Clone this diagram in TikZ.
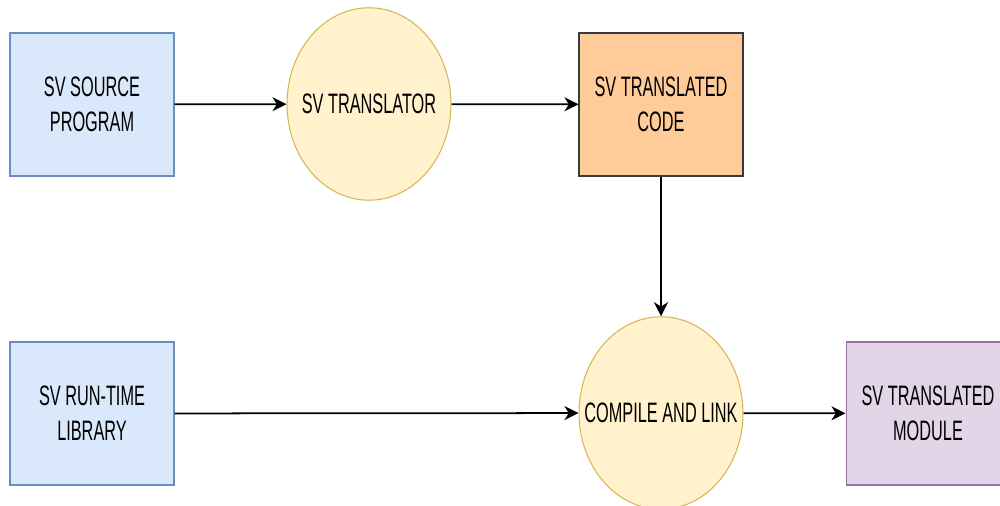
\documentclass[tikz,border=0pt]{standalone}
\usepackage{fontspec}
\setmainfont[FakeStretch=0.58]{Liberation Sans}
\usetikzlibrary{arrows.meta, shapes.geometric}
\definecolor{bfill}{HTML}{DAE8FC}
\definecolor{bline}{HTML}{6C8EBF}
\definecolor{yfill}{HTML}{FFF2CC}
\definecolor{yline}{HTML}{D6B656}
\definecolor{ofill}{HTML}{FFCC99}
\definecolor{oline}{HTML}{36393D}
\definecolor{vfill}{HTML}{E1D5E7}
\definecolor{vline}{HTML}{9673A6}
\tikzset{
  % Blue input box
  BB/.style={rectangle,draw=bline,fill=bfill,minimum width=3.28cm,
             minimum height=2.86cm,align=center,inner sep=0pt,
             font=\fontsize{16}{20}\selectfont,line width=0.6pt},
  % Orange code box
  OB/.style={BB,draw=oline,fill=ofill},
  % Violet output box
  VB/.style={BB,draw=vline,fill=vfill},
  % Yellow process ellipse, text set as a centre label
  YE/.style={ellipse,draw=yline,fill=yfill,minimum width=3.28cm,
             minimum height=3.85cm,inner sep=0pt,line width=0.6pt,
             label={[font=\fontsize{16}{20}\selectfont]center:#1}},
  % Arrows
  Arr/.style={-{Stealth[length=8pt,width=8pt,inset=2.5pt]},line width=1pt,black},
}
\begin{document}
\begin{tikzpicture}[x=0.02cm,y=-0.02cm]
  \useasboundingbox (0,0) rectangle (1000,506);
  \clip (0,0) rectangle (1000,506);
  \node[BB] (src)   at (92,104.5)  {SV SOURCE\\PROGRAM};
  \node[YE=SV TRANSLATOR] (trans) at (369,104) {};
  \node[OB] (tcode) at (661,104.5) {SV TRANSLATED\\CODE};
  \node[BB] (lib)   at (92,413.5)  {SV RUN-TIME\\LIBRARY};
  \node[YE=COMPILE AND LINK] (comp) at (661,413) {};
  \node[VB] (mod)   at (928,413.5) {SV TRANSLATED\\MODULE};
  \draw[Arr] (src) -- (trans);
  \draw[Arr] (trans) -- (tcode);
  \draw[Arr] (tcode) -- (comp);
  \draw[Arr] (lib) -- (comp);
  \draw[Arr] (comp) -- (mod);
\end{tikzpicture}
\end{document}
